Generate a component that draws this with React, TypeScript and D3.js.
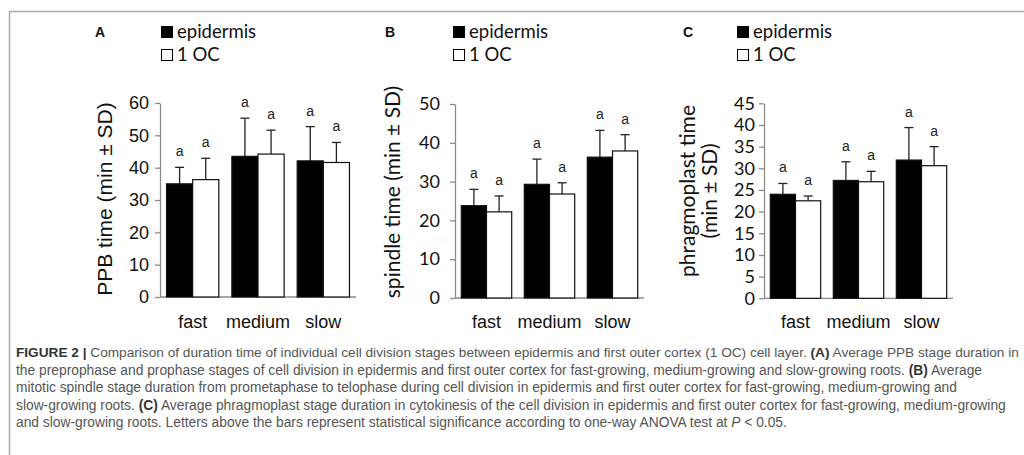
import React, { useEffect, useCallback, useRef } from "react";
import * as d3 from "d3";

// categories on the x axis
const categories = ["fast", "medium", "slow"];
const seriesNames = ["epidermis", "1 OC"];

// (A) PPB stage duration, min
const ppbEpidermis = [35.0, 43.5, 42.1];
const ppbEpidermisSd = [5.1, 11.8, 10.6];
const ppbOuterCortex = [36.3, 44.2, 41.6];
const ppbOuterCortexSd = [6.6, 7.4, 6.2];

// (B) spindle stage duration, min
const spindleEpidermis = [23.8, 29.3, 36.3];
const spindleEpidermisSd = [4.2, 6.5, 6.9];
const spindleOuterCortex = [22.2, 26.8, 37.9];
const spindleOuterCortexSd = [4.1, 2.9, 4.2];

// (C) phragmoplast stage duration, min
const phragEpidermis = [24.0, 27.2, 31.9];
const phragEpidermisSd = [2.5, 4.3, 7.5];
const phragOuterCortex = [22.5, 26.9, 30.6];
const phragOuterCortexSd = [1.1, 2.4, 4.4];

// significance letters (one per bar)
const sigLetters = [
  ["a", "a", "a"],
  ["a", "a", "a"],
];

const ppbTicks = [0, 10, 20, 30, 40, 50, 60];
const spindleTicks = [0, 10, 20, 30, 40, 50];
const phragTicks = [0, 5, 10, 15, 20, 25, 30, 35, 40, 45];

const captionLines = [
  [
    { t: "FIGURE 2 | ", b: true },
    { t: "Comparison of duration time of individual cell division stages between epidermis and first outer cortex (1 OC) cell layer. " },
    { t: "(A)", b: true },
    { t: " Average PPB stage duration in" },
  ],
  [
    { t: "the preprophase and prophase stages of cell division in epidermis and first outer cortex for fast-growing, medium-growing and slow-growing roots. " },
    { t: "(B)", b: true },
    { t: " Average" },
  ],
  [
    { t: "mitotic spindle stage duration from prometaphase to telophase during cell division in epidermis and first outer cortex for fast-growing, medium-growing and" },
  ],
  [
    { t: "slow-growing roots. " },
    { t: "(C)", b: true },
    { t: " Average phragmoplast stage duration in cytokinesis of the cell division in epidermis and first outer cortex for fast-growing, medium-growing" },
  ],
  [
    { t: "and slow-growing roots. Letters above the bars represent statistical significance according to one-way ANOVA test at " },
    { t: "P", i: true },
    { t: " < 0.05." },
  ],
];

const ARIAL = "'Liberation Sans', Arial, sans-serif";
const CALIBRI = "Lato, 'Open Sans', sans-serif";

const panels = [
  {
    letter: "A",
    letterX: 100,
    legendX: 161,
    x0: 160,
    x1: 356,
    yTop: 103,
    yBottom: 297,
    max: 60,
    ticks: ppbTicks,
    tickFont: ARIAL,
    tickPad: 6,
    title: ["PPB time (min ± SD)"],
    titleFont: ARIAL,
    titleX: [112],
    titleY: 199,
    titleSize: 21,
    epi: ppbEpidermis,
    epiSd: ppbEpidermisSd,
    oc: ppbOuterCortex,
    ocSd: ppbOuterCortexSd,
  },
  {
    letter: "B",
    letterX: 390,
    legendX: 453,
    x0: 455,
    x1: 644,
    yTop: 104,
    yBottom: 298,
    max: 50,
    ticks: spindleTicks,
    tickFont: CALIBRI,
    tickPad: 10,
    title: ["spindle time (min ± SD)"],
    titleFont: CALIBRI,
    titleX: [400],
    titleY: 192,
    titleSize: 21,
    epi: spindleEpidermis,
    epiSd: spindleEpidermisSd,
    oc: spindleOuterCortex,
    ocSd: spindleOuterCortexSd,
  },
  {
    letter: "C",
    letterX: 688,
    legendX: 737,
    x0: 764,
    x1: 953,
    yTop: 103.3,
    yBottom: 298.3,
    max: 45,
    ticks: phragTicks,
    tickFont: CALIBRI,
    tickPad: 4,
    title: ["phragmoplast time", "(min ± SD)"],
    titleFont: CALIBRI,
    titleX: [695, 717],
    titleY: 191,
    titleSize: 21,
    epi: phragEpidermis,
    epiSd: phragEpidermisSd,
    oc: phragOuterCortex,
    ocSd: phragOuterCortexSd,
  },
];

const App = () => {
  const svgRef = useRef(null);

  const drawPanel = useCallback((svg, p) => {
    const g = svg.append("g");
    const x = d3
      .scaleBand()
      .domain(categories)
      .range([p.x0, p.x1])
      .paddingInner(0.2)
      .paddingOuter(0.1);
    const sub = d3
      .scaleBand()
      .domain(seriesNames)
      .range([0, x.bandwidth()]);
    const y = d3.scaleLinear().domain([0, p.max]).range([p.yBottom, p.yTop]);

    // panel letter
    g.append("text")
      .attr("x", p.letterX)
      .attr("y", 37)
      .attr("text-anchor", "middle")
      .attr("font-family", ARIAL)
      .attr("font-weight", "bold")
      .attr("font-size", 14)
      .attr("fill", "#111")
      .text(p.letter);

    // legend
    seriesNames.forEach((name, i) => {
      g.append("rect")
        .attr("x", p.legendX + 0.5)
        .attr("y", 26.5 + i * 23)
        .attr("width", 11)
        .attr("height", 11)
        .attr("fill", i === 0 ? "#000" : "#fff")
        .attr("stroke", "#000")
        .attr("stroke-width", 1);
      g.append("text")
        .attr("x", p.legendX + 16)
        .attr("y", 37.5 + i * 23)
        .attr("font-family", CALIBRI)
        .attr("font-size", 18.5)
        .attr("fill", "#111")
        .text(name);
    });

    // y axis
    const yAxis = g
      .append("g")
      .attr("transform", `translate(${p.x0},0)`)
      .call(d3.axisLeft(y).tickValues(p.ticks).tickSize(5).tickSizeOuter(0).tickPadding(p.tickPad));
    yAxis.select(".domain").attr("stroke", "#8a8a8a").attr("stroke-width", 1.3);
    yAxis.selectAll(".tick line").attr("stroke", "#8a8a8a").attr("stroke-width", 1.3);
    yAxis
      .selectAll(".tick text")
      .attr("font-family", p.tickFont)
      .attr("font-size", 18)
      .attr("fill", "#111");

    // x axis line
    g.append("line")
      .attr("x1", p.x0)
      .attr("x2", p.x1)
      .attr("y1", p.yBottom)
      .attr("y2", p.yBottom)
      .attr("stroke", "#8a8a8a")
      .attr("stroke-width", 1.3);

    // category labels
    categories.forEach((c) => {
      g.append("text")
        .attr("x", x(c) + x.bandwidth() / 2)
        .attr("y", 328)
        .attr("text-anchor", "middle")
        .attr("font-family", ARIAL)
        .attr("font-size", 18)
        .attr("fill", "#111")
        .text(c);
    });

    // bars, error bars, letters
    const series = [
      { key: seriesNames[0], vals: p.epi, sds: p.epiSd, fill: "#000" },
      { key: seriesNames[1], vals: p.oc, sds: p.ocSd, fill: "#fff" },
    ];
    series.forEach((s, si) => {
      categories.forEach((c, ci) => {
        const bx = x(c) + sub(s.key);
        const bw = sub.bandwidth();
        const v = s.vals[ci];
        const top = y(v + s.sds[ci]);
        const cx = bx + bw / 2;
        g.append("line")
          .attr("x1", cx)
          .attr("x2", cx)
          .attr("y1", y(v))
          .attr("y2", top)
          .attr("stroke", "#222")
          .attr("stroke-width", 1.3);
        g.append("line")
          .attr("x1", cx - 4.5)
          .attr("x2", cx + 4.5)
          .attr("y1", top)
          .attr("y2", top)
          .attr("stroke", "#222")
          .attr("stroke-width", 1.3);
        g.append("rect")
          .attr("x", bx)
          .attr("y", y(v))
          .attr("width", bw)
          .attr("height", y(0) - y(v))
          .attr("fill", s.fill)
          .attr("stroke", "#111")
          .attr("stroke-width", 1.2);
        g.append("text")
          .attr("x", cx)
          .attr("y", top - 11)
          .attr("text-anchor", "middle")
          .attr("font-family", ARIAL)
          .attr("font-size", 14)
          .attr("fill", "#222")
          .text(sigLetters[si][ci]);
      });
    });

    // y title (rotated)
    p.title.forEach((t, i) => {
      g.append("text")
        .attr("transform", `translate(${p.titleX[i]},${p.titleY}) rotate(-90)`)
        .attr("text-anchor", "middle")
        .attr("font-family", p.titleFont)
        .attr("font-size", p.titleSize)
        .attr("fill", "#111")
        .text(t);
    });
  }, []);

  const drawChart = useCallback(
    (node) => {
      const svg = d3.select(node);
      svg.selectAll("*").remove();

      // frame
      svg.append("line")
        .attr("x1", 9).attr("x2", 1024).attr("y1", 11.5).attr("y2", 11.5)
        .attr("stroke", "#aaa").attr("stroke-width", 1.5);
      svg.append("line")
        .attr("x1", 9.5).attr("x2", 9.5).attr("y1", 11).attr("y2", 455)
        .attr("stroke", "#aaa").attr("stroke-width", 1.5);

      panels.forEach((p) => drawPanel(svg, p));

      // caption
      const cap = svg
        .append("g")
        .attr("font-family", ARIAL)
        .attr("fill", "#555");
      captionLines.forEach((line, i) => {
        // first line runs to the right edge, so it is set a touch smaller
        const t = cap
          .append("text")
          .attr("x", 16)
          .attr("y", 357 + i * 17.5)
          .attr("font-size", i === 0 ? 13.65 : 13.8);
        line.forEach((seg) => {
          const ts = t.append("tspan").text(seg.t);
          if (seg.b) ts.attr("font-weight", "bold").attr("fill", "#333");
          if (seg.i) ts.attr("font-style", "italic");
        });
      });
    },
    [drawPanel]
  );

  useEffect(() => {
    if (svgRef.current) {
      drawChart(svgRef.current);
    }
  }, [svgRef, drawChart]);

  return (
    <svg
      ref={svgRef}
      width={1024}
      height={455}
      style={{ position: "absolute", left: 0, top: 0, background: "#fff", display: "block" }}
    />
  );
};

export default App;
